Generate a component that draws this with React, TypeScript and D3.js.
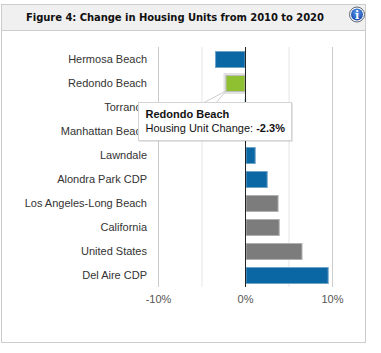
import React from "react";
import * as d3 from "d3";

const categories = ["Hermosa Beach","Redondo Beach","Torrance","Manhattan Beach","Lawndale","Alondra Park CDP","Los Angeles-Long Beach","California","United States","Del Aire CDP"];
const values = [-3.5,-2.3,-0.1,-0.1,1.17,2.55,3.8,3.93,6.55,9.56];
const kinds = ["place","self","place","place","place","place","ref","ref","ref","place"];
const ticks = [-10,0,10];
const minorTicks = [-5,5];

const fills: Record<string,string> = { place:"#0b66a4", self:"#8fc031", ref:"#7c7c7c" };
const strokes: Record<string,string> = { place:"#6ea3c8", self:"#bcbcbc", ref:"#b0b0b0" };
const font = "Arial, 'Liberation Sans', sans-serif";

export default function App() {
  const x = d3.scaleLinear().domain([-10,10]).range([158.5,332.5]);
  const y = d3.scaleBand<string>().domain(categories).range([47,287]);
  const bh = 17;
  return (
    <svg width={381} height={353} style={{position:"absolute",left:0,top:0}} fontFamily={font}>
      <rect x={0} y={0} width={381} height={353} fill="#fff"/>
      <rect x={1.5} y={4.5} width={364} height={338} fill="#fff" stroke="#cccccc" strokeWidth={1}/>
      <rect x={2} y={5} width={363} height={25} fill="#f0f0f0"/>
      <line x1={1} x2={366} y1={30.5} y2={30.5} stroke="#cccccc"/>
      <text x={175} y={20.5} textAnchor="middle" fontSize={10} fontWeight={700} fontFamily="'DejaVu Sans', Verdana, sans-serif" fill="#111" textLength={298} lengthAdjust="spacing">Figure 4: Change in Housing Units from 2010 to 2020</text>
      <defs>
        <radialGradient id="info" cx="50%" cy="35%" r="65%">
          <stop offset="0%" stopColor="#5f9df0"/>
          <stop offset="100%" stopColor="#1747a8"/>
        </radialGradient>
      </defs>
      <circle cx={357} cy={14.5} r={7.5} fill="#fff" stroke="#5c6470" strokeWidth={1}/>
      <circle cx={357} cy={14.5} r={6} fill="url(#info)"/>
      <text x={357} y={18.5} textAnchor="middle" fontSize={11} fontWeight={700} fontFamily="'DejaVu Serif', serif" fill="#fff">i</text>

      {ticks.map(t => <line key={t} x1={x(t)} x2={x(t)} y1={47} y2={287} stroke="#cccccc"/>)}
      {minorTicks.map(t => <line key={t} x1={x(t)} x2={x(t)} y1={47} y2={287} stroke="#e6e6e6"/>)}

      {categories.map((c,i) => {
        const v = values[i];
        const x0 = Math.min(x(0),x(v)), w = Math.abs(x(v)-x(0));
        const yy = y(c)! + 4;
        return (
          <g key={c}>
            {kinds[i]==="self" && <rect x={x0-2} y={yy-2} width={w+2} height={bh+4} fill="#e2e2e2"/>}
            <rect x={x0+0.5} y={yy+0.5} width={Math.max(w-1,0.5)} height={bh-1} fill={fills[kinds[i]]} stroke={strokes[kinds[i]]}/>
            <text x={147} y={y(c)!+y.bandwidth()/2+4} textAnchor="end" fontSize={11} fill="#333">{c}</text>
          </g>
        );
      })}
      <line x1={x(0)} x2={x(0)} y1={47} y2={287} stroke="#222" strokeWidth={1}/>
      {ticks.map(t => <text key={t} x={x(t)} y={303} textAnchor="middle" fontSize={11} fill="#555">{t}%</text>)}

      <g>
        <polygon points="203,103 226,91 216,103" fill="#fff" stroke="#cfcfcf"/>
        <rect x={139} y={103} width={154} height={39} fill="#000" opacity={0.1}/>
        <rect x={138.5} y={102.5} width={153} height={38} fill="#fff" stroke="#d4d4d4"/>
        <text x={145.5} y={118} fontSize={11} fontWeight={700} fill="#111">Redondo Beach</text>
        <text x={145.5} y={132} fontSize={11} fill="#111">Housing Unit Change: <tspan fontWeight={700}>-2.3%</tspan></text>
      </g>
    </svg>
  );
}
